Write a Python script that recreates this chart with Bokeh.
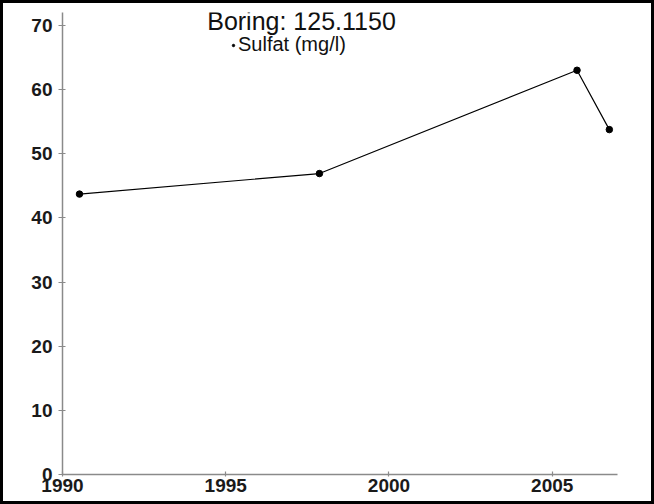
from bokeh.plotting import figure
from bokeh.models import Range1d, FixedTicker, Label, Legend, LegendItem
from bokeh.embed import file_html
from bokeh.resources import INLINE

# data (decimal years, mg/l)
years = [1990.52, 1997.87, 2005.76, 2006.75]
sulfat = [43.7, 46.9, 63.0, 53.75]
x_ticks = [1990, 1995, 2000, 2005]
y_ticks = [0, 10, 20, 30, 40, 50, 60, 70]
title_text = "Boring: 125.1150"
series_name = "Sulfat (mg/l)"

p = figure(width=648, height=498, output_backend="svg", toolbar_location=None,
           x_range=Range1d(1990, 2007), y_range=Range1d(0, 72),
           min_border_left=59, min_border_right=40, min_border_top=9, min_border_bottom=33)
p.styles = {"border": "3px solid black", "box-sizing": "content-box"}
p.outline_line_color = None
p.grid.visible = False
p.background_fill_color = "white"
p.border_fill_color = "white"

axis_color = "#8a8a8a"
for ax in (p.xaxis[0], p.yaxis[0]):
    ax.axis_line_color = axis_color
    ax.axis_line_width = 1.5
    ax.major_tick_line_color = axis_color
    ax.major_tick_line_width = 1.2
    ax.minor_tick_line_color = None
    ax.major_label_text_font = "Liberation Sans"
    ax.major_label_text_font_style = "bold"
    ax.major_label_text_font_size = "19px"
    ax.major_label_text_color = "#1a1a1a"

p.xaxis.ticker = FixedTicker(ticks=x_ticks)
p.yaxis.ticker = FixedTicker(ticks=y_ticks)
p.xaxis.major_tick_in = 3
p.xaxis.major_tick_out = 2
p.xaxis.major_label_standoff = 2
p.yaxis.major_tick_in = 3
p.yaxis.major_tick_out = 4
p.yaxis.major_label_standoff = 6

p.line(years, sulfat, line_color="black", line_width=1.2)
pts = p.scatter(years, sulfat, size=6.5, fill_color="black", line_color="black")

legend = Legend(items=[LegendItem(label=series_name, renderers=[pts])],
                location=(168, 418), border_line_color=None, background_fill_alpha=0,
                padding=0, margin=0, spacing=0, glyph_width=6, glyph_height=18,
                label_standoff=2, label_text_font="Liberation Sans",
                label_text_font_size="20px", label_height=18, label_text_color="#111111")
p.add_layout(legend)

p.add_layout(Label(x=239, y=454, x_units="screen", y_units="screen", text=title_text,
                   text_align="center", text_baseline="alphabetic",
                   text_font="Liberation Sans", text_font_size="25px", text_color="#111111"))

open("out.html", "w").write(file_html(p, INLINE))
